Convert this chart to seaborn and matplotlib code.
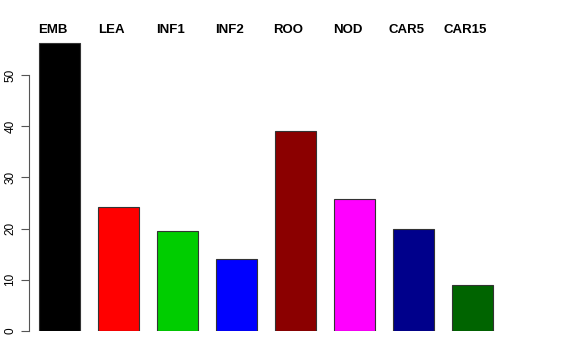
import matplotlib
matplotlib.use("Agg")
import matplotlib.pyplot as plt
import seaborn as sns
import pandas as pd

categories = ["EMB", "LEA", "INF1", "INF2", "ROO", "NOD", "CAR5", "CAR15"]
values = [56.2, 24.2, 19.5, 14.0, 39.0, 25.7, 19.9, 9.0]
colors = ["#000000", "#FF0000", "#00CD00", "#0000FF", "#8B0000", "#FF00FF", "#00008B", "#006400"]
yticks = [0, 10, 20, 30, 40, 50]

df = pd.DataFrame({"tissue": categories, "value": values})

sns.set_style("white")
plt.rcParams["font.family"] = ["Liberation Sans", "DejaVu Sans"]
plt.rcParams["text.color"] = "black"
plt.rcParams["ytick.labelcolor"] = "black"

fig = plt.figure(figsize=(5.76, 3.6), dpi=100)
ax = fig.add_axes([24.1 / 576, 29 / 360, 483.8 / 576, 307.2 / 360])

sns.barplot(data=df, x="tissue", y="value", hue="tissue", palette=colors,
            legend=False, width=0.7, edgecolor="#333333", linewidth=0.8,
            saturation=1, ax=ax)

ax.set_xlim(-0.6, 7.6)
ax.set_ylim(0, 60)
ax.set_xlabel("")
ax.set_ylabel("")
ax.set_xticks([])

# R-style y axis
for s in ["top", "right", "bottom"]:
    ax.spines[s].set_visible(False)
ax.spines["left"].set_position(("data", -0.517))
ax.spines["left"].set_bounds(0, 50)
ax.spines["left"].set_color("#555555")
ax.spines["left"].set_linewidth(0.8)
ax.set_yticks(yticks)
ax.set_yticklabels([str(t) for t in yticks], rotation=90, va="center", fontsize=8.5)
ax.tick_params(axis="y", direction="out", length=6, width=0.8, color="#555555",
               labelcolor="black", left=True, pad=3)

# labels across the top
for i, lab in enumerate(categories):
    ax.text(i - 0.12, 0.979, lab, transform=ax.get_xaxis_transform(),
            ha="center", va="center", fontsize=9.5, fontweight="bold", color="black")

fig.savefig("out.png", dpi=100)
